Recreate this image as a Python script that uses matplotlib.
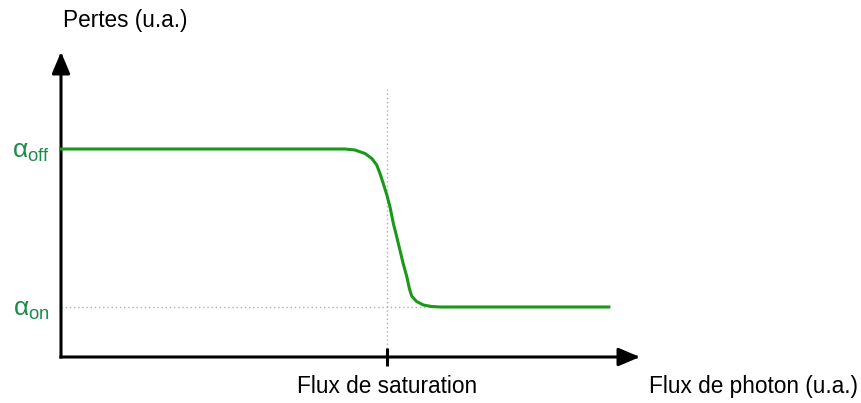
import matplotlib
matplotlib.use("Agg")
import matplotlib.pyplot as plt

# Data (arbitrary units)
flux = [0, 0.855, 0.870, 0.900, 0.931, 0.952, 0.967, 0.977, 0.987, 0.998,
        1.008, 1.018, 1.028, 1.038, 1.048, 1.059, 1.067, 1.074, 1.089,
        1.110, 1.135, 1.161, 1.678]
pertes = [4.16, 4.16, 4.16, 4.14, 4.07, 3.97, 3.84, 3.67, 3.47, 3.24,
          2.99, 2.67, 2.41, 2.14, 1.87, 1.61, 1.37, 1.22, 1.11,
          1.04, 1.01, 1.0, 1.0]
alpha_on = 1.0
alpha_off = 4.16
flux_sat = 1.0
ytick_labels = [r"$\alpha_{\mathrm{on}}$", r"$\alpha_{\mathrm{off}}$"]
xtick_label = "Flux de saturation"
xlabel = "Flux de photon (u.a.)"
ylabel = "Pertes (u.a.)"

plt.rcParams["font.family"] = ["Liberation Sans", "DejaVu Sans"]
plt.rcParams["mathtext.fontset"] = "custom"
plt.rcParams["mathtext.rm"] = "Liberation Sans"
plt.rcParams["mathtext.it"] = "Liberation Sans"
plt.rcParams["mathtext.bf"] = "Liberation Sans:bold"

curve_color = "#189a18"
label_green = "#1b8a4a"

fig = plt.figure(figsize=(8.62, 4.03), dpi=100)
ax = fig.add_axes([61 / 862, 46 / 403, (640 - 61) / 862, (357 - 52) / 403])
ax.set_xlim(0, (640 - 61) / 326.5)
ax.set_ylim(0, (357 - 52) / 50)
for s in ax.spines.values():
    s.set_visible(False)

# Axes arrows
arrow_kw = dict(arrowstyle="-|>,head_length=1.3,head_width=0.55", mutation_scale=10,
                lw=2.2, color="black", shrinkA=0, shrinkB=0, capstyle="projecting")
ax.annotate("", xy=(0, 1), xytext=(0, 0), xycoords="axes fraction",
            textcoords="axes fraction", arrowprops=arrow_kw, annotation_clip=False)
ax.annotate("", xy=(1, 0), xytext=(0, 0), xycoords="axes fraction",
            textcoords="axes fraction", arrowprops=arrow_kw, annotation_clip=False)

# Dotted guide lines
ax.plot([flux_sat, flux_sat], [0, 5.36], color="#b0b0b0", lw=1,
        linestyle=(0, (1, 2)), zorder=1)
ax.plot([0, 1.15], [alpha_on, alpha_on], color="#b0b0b0", lw=1,
        linestyle=(0, (1, 2)), zorder=1)

# Curve
ax.plot(flux, pertes, color=curve_color, lw=2.2, solid_joinstyle="round",
        zorder=3, clip_on=False)

# Ticks
ax.set_yticks([alpha_on, alpha_off], ytick_labels)
ax.tick_params(axis="y", length=0, pad=8, labelsize=19, labelcolor=label_green)
ax.set_xticks([flux_sat], [xtick_label])
ax.tick_params(axis="x", direction="inout", length=13.5, width=2.2, pad=6,
               labelsize=16.3, color="black")

# Axis labels
ax.text(1.801, -0.58, xlabel, fontsize=16.3, ha="left", va="center", clip_on=False)
ax.text(0.006, 6.72, ylabel, fontsize=16.3, ha="left", va="center", clip_on=False)

fig.savefig("out.png", dpi=100)
